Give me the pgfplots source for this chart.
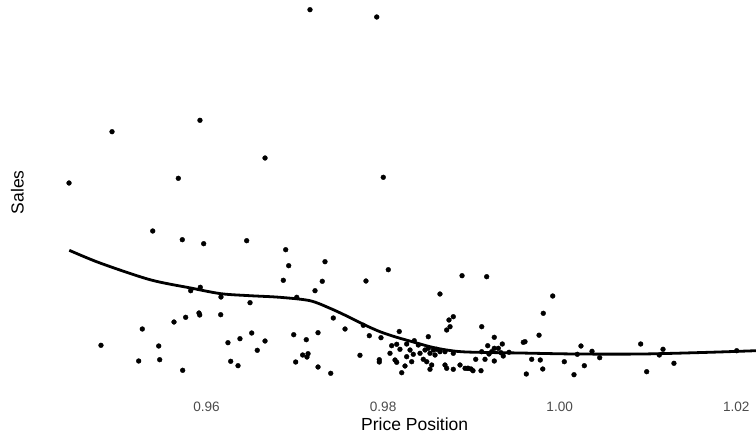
\documentclass[border=0pt]{standalone}
\usepackage{pgfplots}
\pgfplotsset{compat=1.18}
\usepackage{pgfplotstable}
\usepackage{fontspec}
\setmainfont{Liberation Sans}
\pgfplotstableread{
x y
0.97172 390.3
0.97928 383
0.94443 217
0.94930 268.3
0.95926 279.7
0.95681 221.7
0.96663 242
0.98002 222.7
0.95391 169
0.95726 160.3
0.95968 156.3
0.96455 159.3
0.96897 150.3
0.96931 134.3
0.97342 138.3
0.96870 119.7
0.97311 118.7
0.97806 119
0.95821 109.3
0.95930 112.7
0.96164 103
0.97022 102.7
0.97229 109.3
0.96493 97.3
0.95764 82.7
0.95632 78
0.95915 87
0.95923 85
0.96161 85.3
0.97436 82
0.97569 71
0.97776 74.7
0.95273 71
0.94805 54.7
0.95459 54
0.95232 39
0.95470 40.3
0.95730 29.7
0.96243 57.3
0.96379 61.3
0.96512 67
0.96663 59
0.96575 49.7
0.96274 38.7
0.96357 34.3
0.96988 65.3
0.97130 60.3
0.97263 67.3
0.97089 45
0.97150 46.3
0.97138 43
0.97010 38
0.97263 33
0.97407 26.7
0.97844 64.3
0.97738 44.7
0.97957 40.3
0.97957 38
0.97976 62.3
0.98059 130.3
0.98644 106
0.98894 124.3
0.99173 123.3
0.99921 104
0.99814 86.7
0.99117 73.3
0.99766 64.8
0.98746 80
0.98795 83.3
0.98758 73.3
0.98720 70
0.98183 68.5
0.98512 63.3
0.98097 54.3
0.98154 55.7
0.98191 50.7
0.98267 56
0.98305 50
0.98353 59.3
0.98399 55
0.98342 45.7
0.98418 46.7
0.98475 50
0.98512 51.7
0.98531 46.7
0.98569 50
0.98607 50.7
0.98644 48.3
0.98701 48.3
0.98795 46.7
0.98078 46.7
0.98135 40
0.98154 37.7
0.98267 43.3
0.98324 38.3
0.98248 34
0.98211 27.3
0.98455 40.7
0.98494 38.3
0.98550 35
0.98531 30.7
0.98588 45
0.98701 35
0.98720 31.7
0.98795 30.7
0.98871 35
0.98928 31.7
0.98954 31.7
0.99259 62.7
0.99588 57.7
0.99607 58.3
0.99185 54.3
0.99350 56
0.99259 51.7
0.99305 51.7
0.99117 48.3
0.99230 48.3
0.99335 47.3
0.99426 47.7
0.99199 46
0.99361 44
0.99049 40.7
0.99154 40.7
0.99259 39
0.99683 40.7
0.99780 40
1.00052 38.3
0.98965 31.7
0.98996 31
0.99018 29.3
0.99109 29.3
0.99622 26
0.99808 31
1.00241 54
1.00199 45.7
1.00279 34.3
1.00162 25.3
1.00366 48.7
1.00453 42.3
1.00917 56
1.01170 50.7
1.01128 45
1.00985 28.3
1.01294 36.7
1.02005 49.3
}\points
\pgfplotstableread{
x y
0.94446 149.7
0.94794 137
0.95360 120.3
0.95821 112
0.96164 106.3
0.96493 104.3
0.96832 102.7
0.97172 99.3
0.97399 91.7
0.97588 84
0.97776 75.7
0.97965 68.3
0.98154 62.7
0.98342 58
0.98531 53.3
0.98720 50
0.98947 48
0.99550 47
1.00185 46
1.00932 46
1.01691 47.7
1.02223 49.3
}\smoothline
\begin{document}
\begin{tikzpicture}
\begin{axis}[
  at={(0,0)}, anchor=south west,
  scale only axis, width=759.7pt, height=401.6pt,
  xmin=0.940555, xmax=1.026591, ymin=7, ymax=408.6,
  axis line style={draw=none},
  major tick length=0pt,
  ytick=\empty,
  xtick={0.96,0.98,1.00,1.02},
  xticklabels={0.96,0.98,1.00,1.02},
  xticklabel style={font=\fontsize{13.6}{15}\selectfont, text=black!70, anchor=north, inner sep=0pt, yshift=-9.3pt},
  xlabel={Price Position},
  ylabel={Sales},
  xlabel style={at={(axis description cs:0.5,0)}, anchor=north, inner sep=0pt, yshift=-25pt, font=\fontsize{17.5}{19}\selectfont},
  ylabel style={at={(axis description cs:-0.01422,0.5)}, anchor=south, rotate=0, inner sep=0pt, font=\fontsize{17.5}{19}\selectfont},
  clip=false,
]
\addplot[only marks, mark=*, mark size=2.4pt, black] table {\points};
\addplot[black, line width=2.8pt, smooth, no marks] table {\smoothline};
\end{axis}
\pgfresetboundingbox
\path[use as bounding box] (-34.8pt,-44pt) rectangle (721.2pt,393pt);
\end{tikzpicture}
\end{document}
